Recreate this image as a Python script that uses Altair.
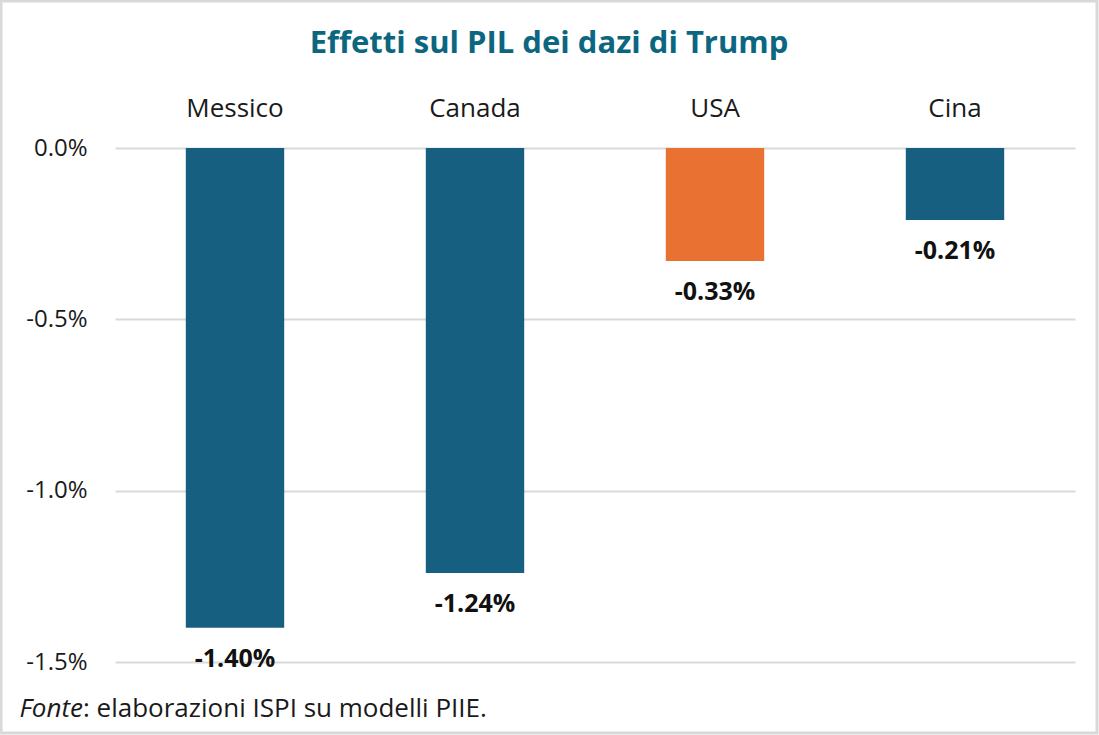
import altair as alt
import pandas as pd

# GDP effects of the tariffs, in percent
countries = ["Messico", "Canada", "USA", "Cina"]
values = [-1.40, -1.24, -0.33, -0.21]
bar_colors = ["#175f80", "#175f80", "#e97233", "#175f80"]
value_labels = ["-1.40%", "-1.24%", "-0.33%", "-0.21%"]
y_ticks = [0.0, -0.5, -1.0, -1.5]

FONT = "Open Sans"
W, H = 960, 514

df = pd.DataFrame({
    "country": countries,
    "value": values,
    "color": bar_colors,
    "label": value_labels,
})

x_enc = alt.X(
    "country:N",
    sort=countries,
    scale=alt.Scale(paddingInner=0.59, paddingOuter=0.295),
    axis=alt.Axis(
        orient="top", title=None, ticks=False, domain=False,
        labelFontSize=26, labelFont=FONT, labelColor="#1a1a1a",
        labelPadding=27, labelAngle=0,
    ),
)
y_scale = alt.Scale(domain=[-1.5, 0], nice=False, zero=True)

bars = alt.Chart(df).mark_bar().encode(
    x=x_enc,
    y=alt.Y(
        "value:Q",
        scale=y_scale,
        axis=alt.Axis(
            values=y_ticks, title=None, ticks=False, domain=False,
            labelExpr="replace(format(datum.value, '.1f'), '\u2212', '-') + '%'",
            labelFontSize=24, labelFont=FONT, labelColor="#1a1a1a",
            labelPadding=28, gridColor="#d9d9d9", gridWidth=2,
        ),
    ),
    y2=alt.datum(0),
    color=alt.Color("color:N", scale=None),
)

labels = alt.Chart(df).mark_text(
    baseline="top", dy=19, fontSize=25, fontWeight="bold", font=FONT, color="#111111"
).encode(
    x=alt.X("country:N", sort=countries),
    y=alt.Y("value:Q", scale=y_scale),
    text="label:N",
)

one = alt.Data(values=[{}])

title = alt.Chart(one).mark_text(
    text="Effetti sul PIL dei dazi di Trump", fontSize=31, fontWeight="bold",
    font=FONT, color="#0c6680", align="center", baseline="alphabetic",
).encode(x=alt.value(549 - 115), y=alt.value(53 - 148))

source_a = alt.Chart(one).mark_text(
    text="Fonte", fontSize=26, fontStyle="italic", font=FONT, color="#1a1a1a",
    align="right", baseline="alphabetic",
).encode(x=alt.value(83 - 115), y=alt.value(717 - 148))

source_b = alt.Chart(one).mark_text(
    text=": elaborazioni ISPI su modelli PIIE.", fontSize=26, font=FONT,
    color="#1a1a1a", align="left", baseline="alphabetic",
).encode(x=alt.value(83 - 115), y=alt.value(717 - 148))

frame = alt.Chart(one).mark_rect(
    filled=False, stroke="#d9d9d9", strokeWidth=3
).encode(
    x=alt.value(-114), x2=alt.value(W + 22),
    y=alt.value(-147), y2=alt.value(H + 71),
)

chart = alt.layer(bars, labels, title, source_a, source_b, frame).properties(
    width=W, height=H,
    padding={"left": 115, "top": 148, "right": 24, "bottom": 73},
    autosize=alt.AutoSizeParams(type="none"),
    background="white",
).configure_view(stroke=None)

chart.save("out.html", embed_options={"renderer": "svg", "actions": False})
